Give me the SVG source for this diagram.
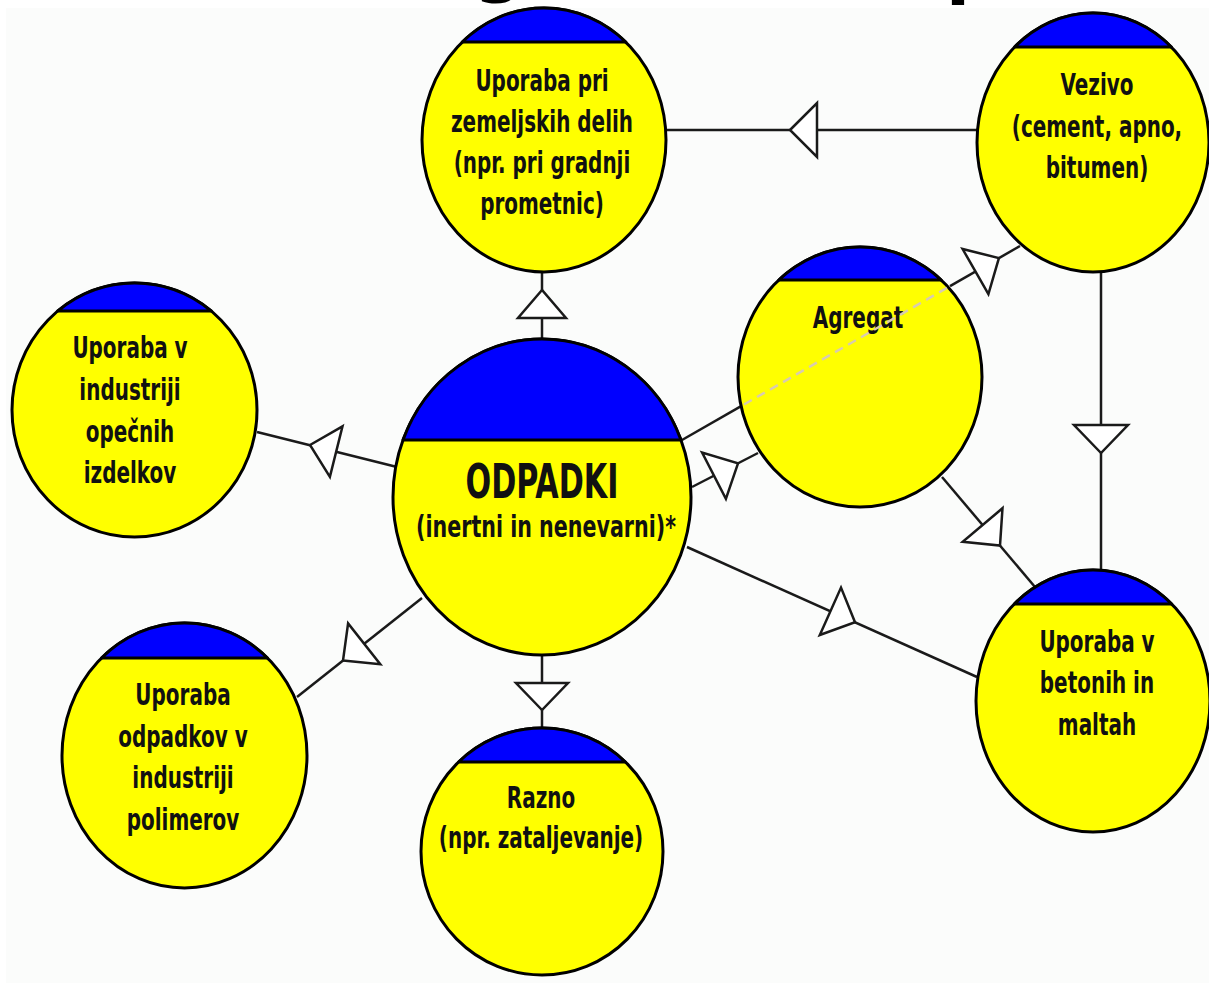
<svg xmlns="http://www.w3.org/2000/svg" width="1209" height="983" viewBox="0 0 1209 983">
<style>
.body{fill:#ffff00;stroke:#000;stroke-width:3}
.cap{fill:#0000ff;stroke:#000;stroke-width:3;stroke-linejoin:round}
.lbl{font-family:'DejaVu Sans Condensed','DejaVu Sans',sans-serif;font-weight:bold;font-size:30px;fill:#111;text-anchor:middle}
.big{font-size:48px}
.conn line{stroke:#1a1a1a;stroke-width:2.5}
.conn polygon{fill:#fff;stroke:#1a1a1a;stroke-width:2.5;stroke-linejoin:miter}
.conn .dash{stroke:#d8cbb0;stroke-width:2.5;stroke-dasharray:9 6}
.ttl{font-family:'DejaVu Sans','Liberation Sans',sans-serif;font-weight:bold;font-size:70px;fill:#000}
</style>
<rect width="1209" height="983" fill="#fff"/>
<rect x="6" y="8" width="1203" height="975" fill="#fbfcfb"/>
<g id="title-fragment">
<text class="ttl" x="474" y="-11">g</text>
<text class="ttl" x="946" y="-9">p</text>
</g>
<g id="connectors" class="conn">
<line x1="542" y1="340" x2="542" y2="272"/>
<polygon points="542,290 518,318 566,318"/>
<line x1="977" y1="130" x2="666" y2="130"/>
<polygon points="790,130 817,103 817,157"/>
<line x1="397" y1="467" x2="257" y2="432"/>
<polygon points="310,445 342.5,426.4 329.9,476.8"/>
<line x1="422" y1="598" x2="297" y2="697"/>
<polygon points="343,660.6 380.3,664.2 348.1,623.4"/>
<line x1="542" y1="655" x2="542" y2="728"/>
<polygon points="542,710 516,683 568,683"/>
<line x1="687" y1="547" x2="977" y2="677"/>
<polygon points="855,622.3 841,587.6 819.8,635"/>
<line x1="942" y1="477" x2="1035" y2="587"/>
<polygon points="1000,545.6 1002.5,508.2 962.7,541.8"/>
<line x1="682" y1="440" x2="742" y2="405.6"/>
<line x1="950" y1="286.2" x2="1020" y2="246"/>
<polygon points="998.9,258.1 988.4,294 962.6,249"/>
<line x1="692" y1="487" x2="758" y2="453"/>
<polygon points="738,463.3 725.9,498.8 702.1,452.6"/>
<line x1="1101" y1="272" x2="1101" y2="570"/>
<polygon points="1101,453 1074,425 1128,425"/>
</g>
<g id="n-zemeljska">
<ellipse class="body" cx="544" cy="140" rx="122" ry="132"/>
<path class="cap" d="M462.2 42 A122 132 0 0 1 625.8 42 Z"/>
<g transform="translate(542 0) scale(0.74 1)">
<text class="lbl" x="0" y="91">Uporaba pri</text>
<text class="lbl" x="0" y="132">zemeljskih delih</text>
<text class="lbl" x="0" y="173">(npr. pri gradnji</text>
<text class="lbl" x="0" y="214">prometnic)</text>
</g>
</g>
<g id="n-vezivo">
<ellipse class="body" cx="1093" cy="142.5" rx="116" ry="129.5"/>
<path class="cap" d="M1014.6 47 A116 129.5 0 0 1 1171.4 47 Z"/>
<g transform="translate(1097 0) scale(0.74 1)">
<text class="lbl" x="0" y="95">Vezivo</text>
<text class="lbl" x="0" y="137">(cement, apno,</text>
<text class="lbl" x="0" y="178">bitumen)</text>
</g>
</g>
<g id="n-agregat">
<ellipse class="body" cx="860" cy="377" rx="122" ry="130"/>
<path class="cap" d="M778.8 280 A122 130 0 0 1 941.2 280 Z"/>
<g transform="translate(858 0) scale(0.74 1)">
<text class="lbl" x="0" y="328">Agregat</text>
</g>
<line x1="744" y1="404.5" x2="948" y2="287.3" stroke="#d8cbb0" stroke-width="2.5" stroke-dasharray="9 6"/>
</g>
<g id="n-odpadki">
<ellipse class="body" cx="542" cy="497" rx="149" ry="158"/>
<path class="cap" d="M403 440 A149 158 0 0 1 681 440 Z"/>
<g transform="translate(542 0) scale(0.7 1)">
<text class="lbl big" x="0" y="498">ODPADKI</text>
</g>
<g transform="translate(546 0) scale(0.74 1)">
<text class="lbl" x="0" y="537" style="font-size:31px">(inertni in nenevarni)*</text>
</g>
</g>
<g id="n-opecni">
<ellipse class="body" cx="134.5" cy="410" rx="122.5" ry="127"/>
<path class="cap" d="M57.8 311 A122.5 127 0 0 1 211.2 311 Z"/>
<g transform="translate(130 0) scale(0.74 1)">
<text class="lbl" x="0" y="358">Uporaba v</text>
<text class="lbl" x="0" y="400">industriji</text>
<text class="lbl" x="0" y="442">opečnih</text>
<text class="lbl" x="0" y="483">izdelkov</text>
</g>
</g>
<g id="n-polimeri">
<ellipse class="body" cx="184.5" cy="755.5" rx="122.5" ry="132.5"/>
<path class="cap" d="M101.5 658 A122.5 132.5 0 0 1 267.5 658 Z"/>
<g transform="translate(183 0) scale(0.74 1)">
<text class="lbl" x="0" y="705">Uporaba</text>
<text class="lbl" x="0" y="747">odpadkov v</text>
<text class="lbl" x="0" y="788">industriji</text>
<text class="lbl" x="0" y="830">polimerov</text>
</g>
</g>
<g id="n-razno">
<ellipse class="body" cx="542" cy="851.5" rx="121" ry="123.5"/>
<path class="cap" d="M458.6 762 A121 123.5 0 0 1 625.4 762 Z"/>
<g transform="translate(541 0) scale(0.74 1)">
<text class="lbl" x="0" y="808">Razno</text>
<text class="lbl" x="0" y="848">(npr. zataljevanje)</text>
</g>
</g>
<g id="n-betoni">
<ellipse class="body" cx="1093" cy="701" rx="117" ry="131"/>
<path class="cap" d="M1014.3 604 A117 131 0 0 1 1171.7 604 Z"/>
<g transform="translate(1097 0) scale(0.74 1)">
<text class="lbl" x="0" y="652">Uporaba v</text>
<text class="lbl" x="0" y="693">betonih in</text>
<text class="lbl" x="0" y="735">maltah</text>
</g>
</g>
</svg>
